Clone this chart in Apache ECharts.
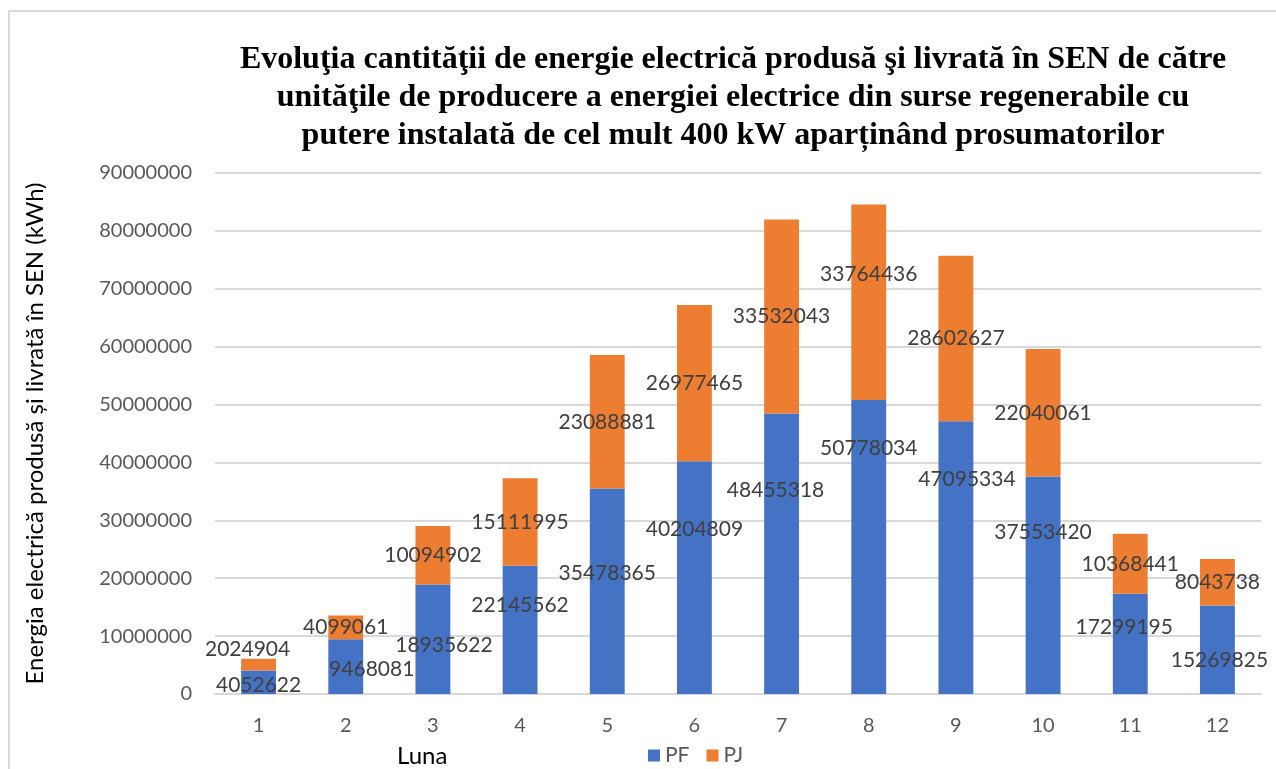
<!DOCTYPE html>
<html>
<head>
<meta charset="utf-8">
<script src="https://cdn.jsdelivr.net/npm/echarts@6/dist/echarts.min.js"></script>
<style>
  html, body { margin: 0; padding: 0; background: #fff; }
  #chart { width: 1276px; height: 769px; }
  #frame { position: absolute; left: 8px; top: 10px; width: 1300px; height: 800px;
           border: 2px solid #d9d9d9; pointer-events: none; }
</style>
</head>
<body>
<div id="chart"></div>
<div id="frame"></div>
<script>
// months and values (kWh)
const months = ['1', '2', '3', '4', '5', '6', '7', '8', '9', '10', '11', '12'];
const pf = [4052622, 9468081, 18935622, 22145562, 35478365, 40204809, 48455318, 50778034, 47095334, 37553420, 17299195, 15269825];
const pj = [2024904, 4099061, 10094902, 15111995, 23088881, 26977465, 33532043, 33764436, 28602627, 22040061, 10368441, 8043738];
const yTicks = [0, 10000000, 20000000, 30000000, 40000000, 50000000, 60000000, 70000000, 80000000, 90000000];

// label nudges (px) so the value labels sit where they are in the original
const pfShift = [[0, 3], [26, 3], [11, 6], [0, -25], [0, -18], [0, -48], [-6, -64], [0, -99], [11, -78], [0, -53], [-6, -17], [2, 10]];
const pjShift = [[-11, -15], [0, 0], [0, 0], [0, 0], [0, 0], [0, 0], [0, 0], [0, -28], [0, 0], [0, 0], [0, 0], [0, 0]];

const FONT = 'Lato';
const chart = echarts.init(document.getElementById('chart'));

function items(vals, shifts) {
    return vals.map((v, i) => ({ value: v, label: { offset: shifts[i] } }));
}

const labelStyle = {
    show: true,
    position: 'inside',
    formatter: '{c}',
    color: '#404040',
    fontFamily: FONT,
    fontSize: 21
};

let option = {
    animation: false,
    title: {
        text: 'Evoluţia cantităţii de energie electrică produsă şi livrată în SEN de către\nunităţile de producere a energiei electrice din surse regenerabile cu\nputere instalată de cel mult 400 kW aparținând prosumatorilor',
        left: 728,
        top: 36,
        textAlign: 'center',
        textStyle: {
            fontFamily: 'Liberation Serif',
            fontWeight: 'bold',
            fontSize: 32,
            lineHeight: 38,
            color: '#000'
        }
    },
    legend: {
        data: ['PF', 'PJ'],
        left: 643,
        top: 740,
        itemWidth: 12,
        itemHeight: 12,
        itemGap: 17,
        icon: 'rect',
        textStyle: { fontFamily: FONT, fontSize: 21, color: '#595959' }
    },
    grid: {
        left: 215,
        right: 15,
        top: 173,
        bottom: 75
    },
    xAxis: {
        type: 'category',
        data: months,
        axisLine: { lineStyle: { color: '#d9d9d9', width: 2 } },
        axisTick: { show: false },
        axisLabel: { margin: 22, fontFamily: FONT, fontSize: 20, color: '#595959' }
    },
    yAxis: {
        type: 'value',
        min: yTicks[0],
        max: yTicks[yTicks.length - 1],
        interval: yTicks[1] - yTicks[0],
        name: 'Energia electrică produsă și livrată în SEN (kWh)',
        nameLocation: 'middle',
        nameGap: 168,
        nameTextStyle: { fontFamily: FONT, fontSize: 24, color: '#000' },
        axisLine: { show: false },
        axisTick: { show: false },
        axisLabel: {
            margin: 23,
            fontFamily: FONT,
            fontSize: 20,
            color: '#595959',
            formatter: v => String(v)
        },
        splitLine: { lineStyle: { color: '#d9d9d9', width: 2 } }
    },
    graphic: [{
        type: 'text',
        left: 397,
        top: 744,
        style: { text: 'Luna', fontFamily: FONT, fontSize: 24, fill: '#000' }
    }],
    series: [
        {
            name: 'PF',
            type: 'bar',
            stack: 'total',
            barWidth: '40%',
            itemStyle: { color: '#4472C4' },
            label: labelStyle,
            data: items(pf, pfShift)
        },
        {
            name: 'PJ',
            type: 'bar',
            stack: 'total',
            barWidth: '40%',
            itemStyle: { color: '#ED7D31' },
            label: labelStyle,
            data: items(pj, pjShift)
        }
    ]
};
option && chart.setOption(option);
</script>
</body>
</html>
